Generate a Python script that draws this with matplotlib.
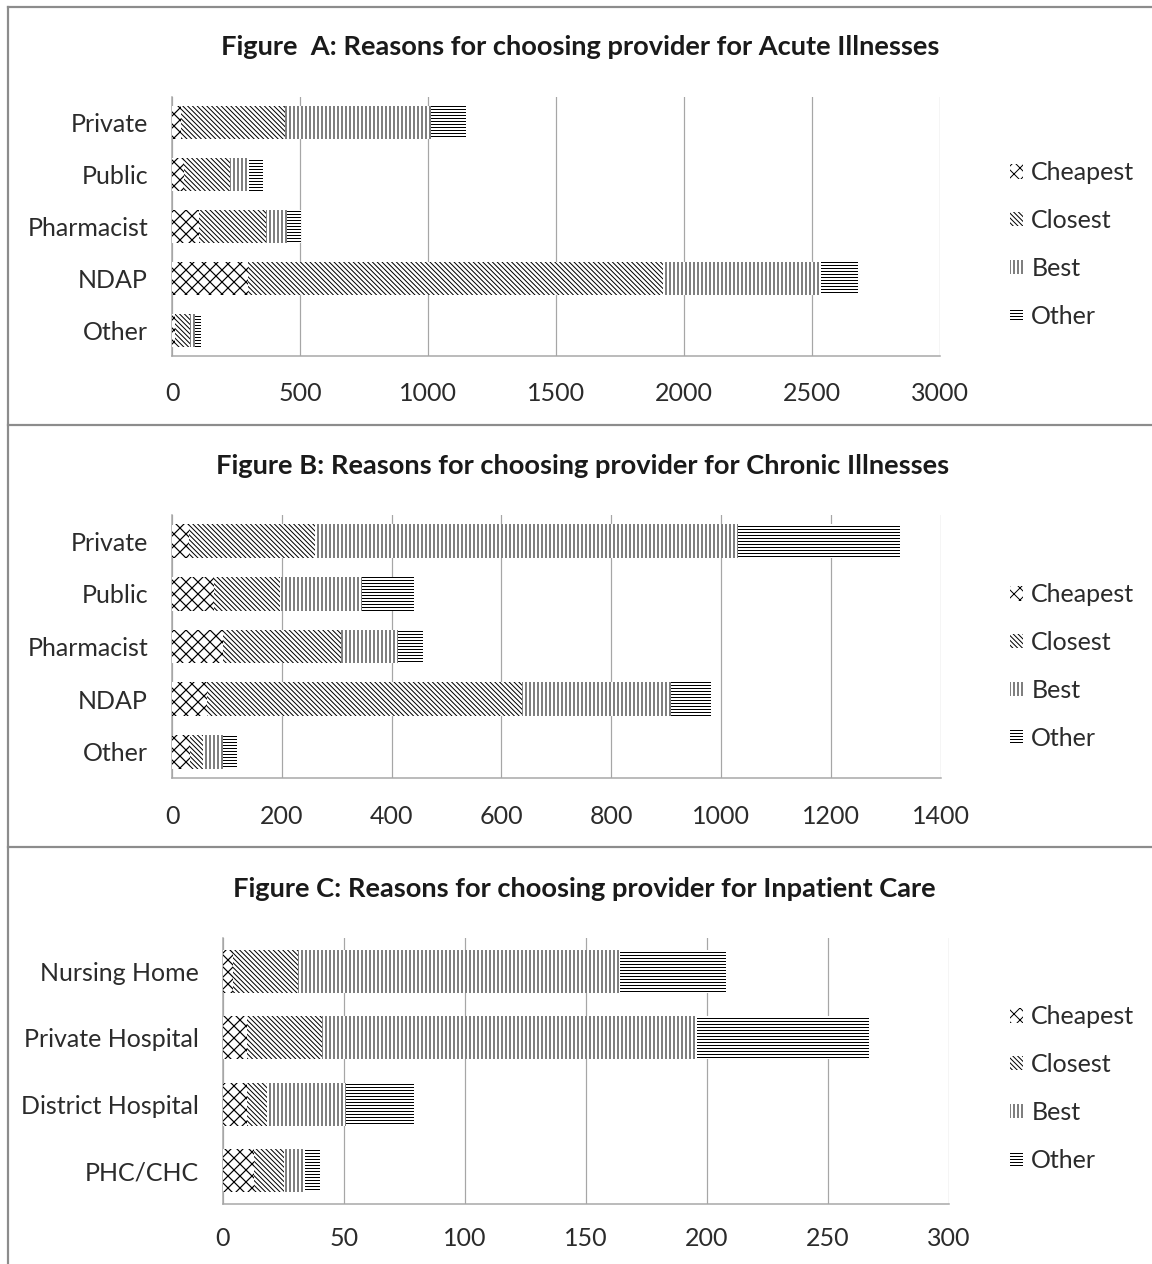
import matplotlib
matplotlib.use("Agg")
import matplotlib.pyplot as plt
from matplotlib.lines import Line2D
import numpy as np

plt.rcParams['font.family'] = ['Lato', 'DejaVu Sans']
plt.rcParams['hatch.linewidth'] = 1.0

W, H = 1152, 1264
DPI = 72

# ---------------- data ----------------
series = ["Cheapest", "Closest", "Best", "Other"]

cats_a = ["Private", "Public", "Pharmacist", "NDAP", "Other"]
cheapest_a = [35, 45, 104, 296, 12]
closest_a = [405, 180, 264, 1623, 60]
best_a = [570, 77, 80, 618, 19]
other_a = [140, 52, 54, 144, 22]
ticks_a = [0, 500, 1000, 1500, 2000, 2500, 3000]

cats_b = ["Private", "Public", "Pharmacist", "NDAP", "Other"]
cheapest_b = [31, 77, 92, 64, 33]
closest_b = [229, 119, 216, 573, 24]
best_b = [771, 150, 104, 272, 35]
other_b = [296, 94, 46, 73, 27]
ticks_b = [0, 200, 400, 600, 800, 1000, 1200, 1400]

cats_c = ["Nursing Home", "Private Hospital", "District Hospital", "PHC/CHC"]
cheapest_c = [4, 10, 10, 13]
closest_c = [27, 31, 8, 12]
best_c = [133, 155, 33, 9]
other_c = [44, 71, 28, 6]
ticks_c = [0, 50, 100, 150, 200, 250, 300]

title_a = "Figure  A: Reasons for choosing provider for Acute Illnesses"
title_b = "Figure B: Reasons for choosing provider for Chronic Illnesses"
title_c = "Figure C: Reasons for choosing provider for Inpatient Care"

hatches = ["xx", "\\" * 5, "|||", "----"]
hatch_lw = [1.2, 1.0, 1.0, 1.0]
TEXT = "#2b2b2b"
GRID = "#a6a6a6"
BORDER = "#8c8c8c"
FS = 25
TFS = 27.3

fig = plt.figure(figsize=(W / DPI, H / DPI), dpi=DPI)


def px_axes(x0, y0, x1, y1):
    return fig.add_axes([x0 / W, 1 - y1 / H, (x1 - x0) / W, (y1 - y0) / H])


def draw_panel(box, cats, data, ticks, title, title_xy, legend_y, legend_x=1010,
               pad_y=24, pad_x=26):
    ax = px_axes(*box)
    n = len(cats)
    y = np.arange(n)
    left = np.zeros(n)
    handles = []
    for name, vals, h, lw in zip(series, data, hatches, hatch_lw):
        with plt.rc_context({'hatch.linewidth': lw}):
            b = ax.barh(y, vals, left=left, height=0.64, color="white",
                        edgecolor="black", linewidth=0, hatch=h, label=name, zorder=3)
        handles.append(b)
        left = left + np.array(vals)
    ax.set_ylim(n - 0.5, -0.5)
    ax.set_xlim(ticks[0], ticks[-1])
    ax.set_xticks(ticks)
    ax.set_yticks(y)
    ax.set_yticklabels(cats)
    ax.tick_params(axis="both", length=0, labelsize=FS, labelcolor=TEXT)
    ax.tick_params(axis="x", pad=pad_x)
    ax.tick_params(axis="y", pad=pad_y)
    ax.grid(axis="x", color=GRID, linewidth=1.2, zorder=0)
    ax.set_axisbelow(True)
    for s in ["top", "right"]:
        ax.spines[s].set_visible(False)
    for s in ["left", "bottom"]:
        ax.spines[s].set_color(GRID)
        ax.spines[s].set_linewidth(1.5)
    fig.text(title_xy[0] / W, 1 - title_xy[1] / H, title, ha="center", va="center",
             fontsize=TFS, fontweight="bold", color="#1a1a1a")
    fig.legend(handles=handles, labels=series, loc="center left",
               bbox_to_anchor=(legend_x / W, 1 - legend_y / H), frameon=False,
               fontsize=FS, labelcolor=TEXT, handlelength=0.5, handleheight=0.5,
               handletextpad=0.35, labelspacing=0.99, borderpad=0, borderaxespad=0)
    return ax


draw_panel((172, 97, 940, 356), cats_a, [cheapest_a, closest_a, best_a, other_a],
           ticks_a, title_a, (580, 47), 244.5)
draw_panel((172, 515, 940.5, 778), cats_b, [cheapest_b, closest_b, best_b, other_b],
           ticks_b, title_b, (583, 466), 666.5, pad_x=27)
draw_panel((223, 938, 949, 1204), cats_c, [cheapest_c, closest_c, best_c, other_c],
           ticks_c, title_c, (584, 889), 1088.5, pad_x=23)


def hline(yp, x0=8, x1=W):
    fig.add_artist(Line2D([x0 / W, x1 / W], [1 - yp / H, 1 - yp / H], color=BORDER, linewidth=2.2))


fig.add_artist(Line2D([8 / W, 8 / W], [1 - 7 / H, 0], color=BORDER, linewidth=2.2))
hline(7)
hline(425)
hline(847)

fig.savefig("out.png", dpi=DPI)
